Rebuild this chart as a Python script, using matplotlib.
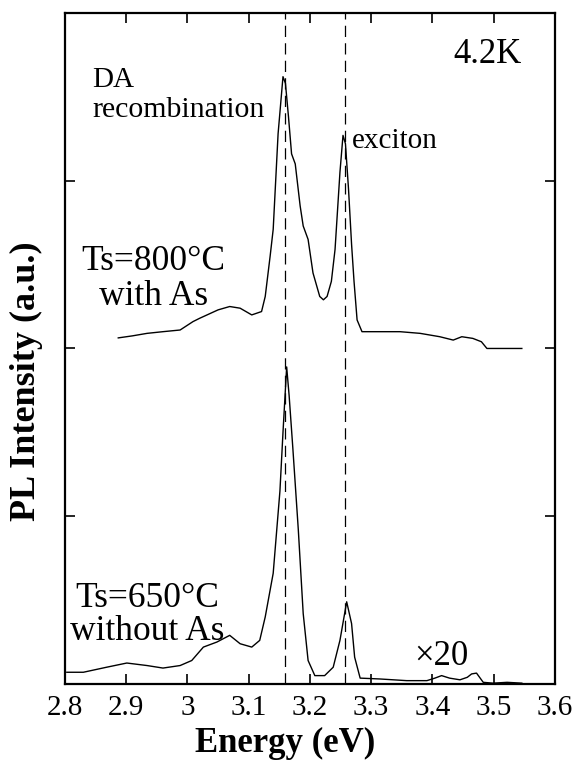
import numpy as np
import matplotlib
matplotlib.use("Agg")
import matplotlib.pyplot as plt

# Espectros PL (energía en eV, intensidad en u.a. desplazada)
energia_800 = [2.887, 2.910, 2.934, 2.960, 2.988, 3.009, 3.020, 3.032, 3.050, 3.069,
               3.086, 3.105, 3.121, 3.127, 3.135, 3.140, 3.148, 3.156, 3.160, 3.165,
               3.170, 3.176, 3.184, 3.189, 3.197, 3.205, 3.216, 3.222, 3.228, 3.235,
               3.241, 3.249, 3.254, 3.258, 3.263, 3.268, 3.272, 3.277, 3.285, 3.314,
               3.347, 3.380, 3.412, 3.434, 3.448, 3.466, 3.480, 3.489, 3.546]
intens_800 = [2.063, 2.075, 2.09, 2.10, 2.11, 2.16, 2.18, 2.20, 2.23, 2.25,
              2.24, 2.20, 2.22, 2.31, 2.55, 2.71, 3.28, 3.62, 3.58, 3.38,
              3.16, 3.10, 2.85, 2.73, 2.65, 2.45, 2.31, 2.29, 2.31, 2.40,
              2.59, 3.05, 3.27, 3.22, 2.95, 2.62, 2.40, 2.17, 2.10, 2.10,
              2.10, 2.09, 2.07, 2.05, 2.07, 2.06, 2.04, 2.00, 2.00]

energia_650 = [2.803, 2.830, 2.868, 2.901, 2.934, 2.960, 2.988, 3.007, 3.026, 3.048,
               3.069, 3.086, 3.105, 3.118, 3.127, 3.140, 3.151, 3.156, 3.162, 3.166,
               3.172, 3.181, 3.189, 3.197, 3.208, 3.224, 3.238, 3.249, 3.260, 3.268,
               3.273, 3.282, 3.314, 3.358, 3.391, 3.404, 3.415, 3.428, 3.445, 3.457,
               3.464, 3.472, 3.477, 3.483, 3.499, 3.522, 3.546]
intens_650 = [0.07, 0.07, 0.10, 0.125, 0.11, 0.095, 0.11, 0.14, 0.22, 0.25,
              0.29, 0.24, 0.22, 0.26, 0.40, 0.66, 1.15, 1.50, 1.89, 1.72,
              1.41, 0.92, 0.42, 0.14, 0.05, 0.05, 0.10, 0.26, 0.49, 0.36,
              0.16, 0.035, 0.03, 0.02, 0.02, 0.035, 0.05, 0.035, 0.025, 0.04,
              0.06, 0.065, 0.04, 0.01, 0.005, 0.01, 0.005]

# Posiciones de las líneas de referencia (DA y excitón)
lineas_ref = [3.159, 3.257]

plt.rcParams['font.family'] = ['Liberation Serif', 'DejaVu Serif']

fig = plt.figure(figsize=(5.73, 7.6), dpi=100)
ax = fig.add_axes([0.1134, 0.1, 0.855, 0.883])

ax.plot(energia_800, intens_800, color='black', lw=1.0)
ax.plot(energia_650, intens_650, color='black', lw=1.0)

for e in lineas_ref:
    ax.axvline(e, color='black', lw=0.9, dashes=(9, 5))

ax.set_xlim(2.8, 3.6)
ax.set_ylim(0, 4)
ax.set_xticks(np.arange(2.8, 3.61, 0.1))
ax.set_xticklabels(['2.8', '2.9', '3', '3.1', '3.2', '3.3', '3.4', '3.5', '3.6'])
ax.set_yticks([1, 2, 3])
ax.set_yticklabels([])
ax.tick_params(direction='in', length=7, width=1.2, top=True, right=True,
               labelsize=21, pad=8)
for s in ax.spines.values():
    s.set_linewidth(1.6)

# Anotaciones
ax.text(3.546, 3.70, '4.2K', fontsize=25, ha='right', va='baseline')
ax.text(2.844, 3.56, 'DA', fontsize=21, ha='left', va='baseline')
ax.text(2.844, 3.38, 'recombination', fontsize=21.5, ha='left', va='baseline')
ax.text(3.269, 3.195, 'exciton', fontsize=21, ha='left', va='baseline')
ax.text(2.944, 2.468, 'Ts=800°C', fontsize=25.5, ha='center', va='baseline')
ax.text(2.944, 2.26, 'with As', fontsize=25.5, ha='center', va='baseline')
ax.text(2.934, 0.459, 'Ts=650°C', fontsize=25.5, ha='center', va='baseline')
ax.text(2.934, 0.262, 'without As', fontsize=25.5, ha='center', va='baseline')
ax.text(3.371, 0.113, '×20', fontsize=25, ha='left', va='baseline')

fig.text(0.047, 0.499, 'PL Intensity (a.u.)', rotation=90, fontsize=26,
         fontweight='bold', ha='center', va='center')
fig.text(0.497, 0.022, 'Energy (eV)', fontsize=25, fontweight='bold',
         ha='center', va='center')

fig.savefig('out.png', dpi=100)
